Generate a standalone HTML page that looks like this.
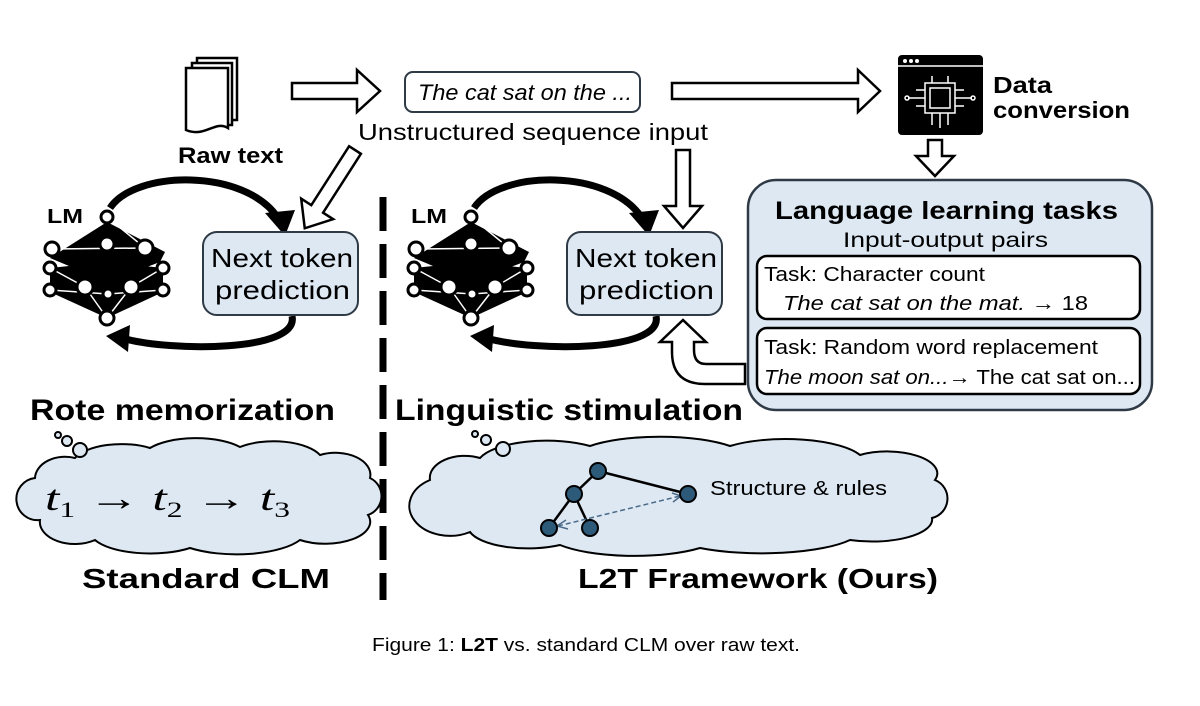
<!DOCTYPE html>
<html><head><meta charset="utf-8"><style>
html,body{margin:0;padding:0;background:#fff;}
svg{display:block;}
text{font-family:"Liberation Sans",sans-serif;}
</style></head><body>
<svg width="1200" height="706" viewBox="0 0 1200 706" xmlns="http://www.w3.org/2000/svg">
<defs>
<g id="net">
  <polygon points="107,222 165,252 160,262 107,282 50,258" fill="#000"/>
  <polygon points="50,268 107,262 163,268 163,292 107,318 50,292" fill="#000"/>
  <g stroke="#fff" stroke-width="1.5">
    <line x1="107" y1="217" x2="52" y2="249"/><line x1="107" y1="217" x2="145" y2="248"/>
    <line x1="52" y1="249" x2="145" y2="248"/><line x1="50" y1="268" x2="85" y2="287"/>
    <line x1="163" y1="268" x2="131" y2="287"/><line x1="85" y1="287" x2="107" y2="318"/>
    <line x1="131" y1="287" x2="107" y2="318"/><line x1="50" y1="290" x2="108" y2="294"/>
    <line x1="163" y1="290" x2="108" y2="294"/>
  </g>
  <g fill="#fff" stroke="#000" stroke-width="3">
    <circle cx="107" cy="217" r="6"/><circle cx="52" cy="249" r="7"/><circle cx="107" cy="244" r="7"/>
    <circle cx="145" cy="248" r="8"/><circle cx="50" cy="268" r="6"/><circle cx="163" cy="268" r="6"/>
    <circle cx="50" cy="290" r="6"/><circle cx="85" cy="287" r="8"/><circle cx="108" cy="294" r="5"/>
    <circle cx="131" cy="287" r="8"/><circle cx="163" cy="290" r="6"/><circle cx="107" cy="318" r="7"/>
  </g>
  <text x="47" y="223" font-size="20" font-weight="bold" textLength="36" lengthAdjust="spacingAndGlyphs">LM</text>
  <path d="M110,208 C135,170 245,168 278,218" fill="none" stroke="#000" stroke-width="7"/>
  <polygon points="265,213 295,210 285,236" fill="#000"/>
  <path d="M292,316 C300,352 170,352 122,338" fill="none" stroke="#000" stroke-width="7"/>
  <polygon points="130,325 106,336 128,352" fill="#000"/>
  <rect x="203" y="232" width="155" height="83" rx="14" fill="#dde8f3" stroke="#2e3a46" stroke-width="2"/>
  <text x="211" y="267" font-size="26" textLength="142" lengthAdjust="spacingAndGlyphs">Next token</text>
  <text x="215" y="299" font-size="26" textLength="135" lengthAdjust="spacingAndGlyphs">prediction</text>
</g>
</defs>

<!-- raw text doc -->
<g fill="#fff" stroke="#000" stroke-width="2.5">
  <rect x="197" y="58" width="40" height="62"/>
  <rect x="192" y="63" width="40" height="62"/>
  <path d="M186,68 H228 V128 C215,120 205,138 186,130 Z"/>
</g>
<text x="178" y="163" font-size="22" font-weight="bold" textLength="105" lengthAdjust="spacingAndGlyphs">Raw text</text>

<!-- hollow arrows -->
<g fill="#fff" stroke="#000" stroke-width="2.5" stroke-linejoin="miter">
  <polygon points="292,83 357,83 357,70 380,91 357,112 357,99 292,99"/>
  <polygon points="672,83 858,83 858,70 880,91 858,112 858,99 672,99"/>
  <g transform="translate(355,150) rotate(122.7)"><polygon points="0,-7 70,-7 70,-19 93,0 70,19 70,7 0,7"/></g>
  <g transform="translate(683,150) rotate(90)"><polygon points="0,-7 56,-7 56,-19 78,0 56,19 56,7 0,7"/></g>
  <g transform="translate(935,140) rotate(90)"><polygon points="0,-7 16,-7 16,-19 36,0 16,19 16,7 0,7"/></g>
  <path d="M745,364 L706,364 Q694,364 694,350 L694,342 L706,342 L683,320 L660,342 L672,342 L672,352 Q672,384 705,384 L745,384 Z"/>
</g>

<rect x="405" y="72" width="235" height="40" rx="8" fill="#fff" stroke="#2e3a46" stroke-width="2"/>
<text x="418" y="100" font-size="22" font-style="italic" textLength="214" lengthAdjust="spacingAndGlyphs">The cat sat on the ...</text>
<text x="358" y="140" font-size="23" textLength="350" lengthAdjust="spacingAndGlyphs">Unstructured sequence input</text>

<!-- data conversion icon -->
<rect x="898" y="55" width="85" height="80" rx="4" fill="#000"/>
<g fill="#fff"><circle cx="905" cy="61" r="2"/><circle cx="911" cy="61" r="2"/><circle cx="917" cy="61" r="2"/></g>
<line x1="898" y1="66" x2="983" y2="66" stroke="#fff" stroke-width="1.5"/>
<g fill="none" stroke="#fff" stroke-width="1.5">
  <rect x="925" y="83" width="30" height="30"/><rect x="930" y="88" width="20" height="20"/>
  <path d="M908,98 H925 M955,98 H972 M932,113 V125 M948,113 V125 M940,113 V128 M932,83 V76 M948,83 V76 M916,90 H925 M916,106 H925 M955,90 H964 M955,106 H964"/>
  <circle cx="907" cy="98" r="2"/><circle cx="973" cy="98" r="2"/>
</g>
<text x="993" y="93" font-size="23" font-weight="bold" textLength="59" lengthAdjust="spacingAndGlyphs">Data</text>
<text x="993" y="118" font-size="23" font-weight="bold" textLength="137" lengthAdjust="spacingAndGlyphs">conversion</text>

<!-- tasks box -->
<rect x="748" y="180" width="404" height="230" rx="28" fill="#dde8f3" stroke="#2e3a46" stroke-width="2.5"/>
<text x="775" y="219" font-size="25" font-weight="bold" textLength="343" lengthAdjust="spacingAndGlyphs">Language learning tasks</text>
<text x="843" y="247" font-size="21" textLength="205" lengthAdjust="spacingAndGlyphs">Input-output pairs</text>
<rect x="757" y="256" width="383" height="63" rx="10" fill="#fff" stroke="#000" stroke-width="2.5"/>
<text x="764" y="281" font-size="20" textLength="221" lengthAdjust="spacingAndGlyphs">Task: Character count</text>
<text x="783" y="310" font-size="20" textLength="305" lengthAdjust="spacingAndGlyphs"><tspan font-style="italic">The cat sat on the mat.</tspan>  → 18</text>
<rect x="757" y="328" width="383" height="66" rx="10" fill="#fff" stroke="#000" stroke-width="2.5"/>
<text x="764" y="354" font-size="20" textLength="334" lengthAdjust="spacingAndGlyphs">Task: Random word replacement</text>
<text x="764" y="384" font-size="20" textLength="371" lengthAdjust="spacingAndGlyphs"><tspan font-style="italic">The moon sat on...</tspan>→ The cat sat on...</text>

<use href="#net"/>
<use href="#net" transform="translate(364,0)"/>

<!-- dashed divider -->
<line x1="383" y1="197" x2="383" y2="600" stroke="#000" stroke-width="7" stroke-dasharray="34,13"/>

<text x="30" y="420" font-size="30" font-weight="bold" textLength="305" lengthAdjust="spacingAndGlyphs">Rote memorization</text>
<text x="395" y="420" font-size="30" font-weight="bold" textLength="348" lengthAdjust="spacingAndGlyphs">Linguistic stimulation</text>

<!-- clouds -->
<g fill="#dde8f3" stroke="#000" stroke-width="2">
  <path d="M35,478 A30,22 0 0,1 75,458 A50,22 0 0,1 150,448 A55,22 0 0,1 240,447 A50,22 0 0,1 320,455 A35,22 0 0,1 370,478 A20,20 0 0,1 368,515 A45,22 0 0,1 300,540 A70,25 0 0,1 190,548 A60,22 0 0,1 95,540 A35,22 0 0,1 40,520 A20,20 0 0,1 35,478 Z"/>
  <circle cx="58" cy="435" r="3"/><circle cx="67" cy="441" r="5"/><circle cx="80" cy="450" r="7"/>
  <path d="M430,480 A35,22 0 0,1 480,458 A70,25 0 0,1 590,446 A90,25 0 0,1 730,446 A80,25 0 0,1 860,455 A50,22 0 0,1 935,480 A20,20 0 0,1 932,518 A60,22 0 0,1 850,540 A100,25 0 0,1 700,548 A90,25 0 0,1 560,545 A60,22 0 0,1 470,532 A30,22 0 0,1 430,480 Z"/>
  <circle cx="475" cy="434" r="3"/><circle cx="486" cy="440" r="5"/><circle cx="503" cy="449" r="7"/>
</g>
<text x="45" y="510" font-size="36" font-style="italic" textLength="245" lengthAdjust="spacingAndGlyphs" style="font-family:'Liberation Serif',serif">t<tspan font-size="22" font-style="normal" dy="7">1</tspan><tspan dy="-7" font-style="normal"> → </tspan>t<tspan font-size="22" font-style="normal" dy="7">2</tspan><tspan dy="-7" font-style="normal"> → </tspan>t<tspan font-size="22" font-style="normal" dy="7">3</tspan></text>

<g stroke="#000" stroke-width="2.5">
  <line x1="598" y1="471" x2="574" y2="494"/><line x1="598" y1="471" x2="688" y2="494"/>
  <line x1="574" y1="494" x2="549" y2="528"/><line x1="574" y1="494" x2="590" y2="528"/>
</g>
<line x1="558" y1="526" x2="680" y2="496" stroke="#4a6a88" stroke-width="1.5" stroke-dasharray="5,3"/>
<path d="M566,520 L557,526 L568,529 M672,493 L681,496 L673,502" fill="none" stroke="#4a6a88" stroke-width="1.5"/>
<g fill="#2c5a78" stroke="#000" stroke-width="2">
  <circle cx="598" cy="471" r="8"/><circle cx="574" cy="494" r="8"/><circle cx="688" cy="494" r="8"/>
  <circle cx="549" cy="528" r="8"/><circle cx="590" cy="528" r="8"/>
</g>
<text x="710" y="495" font-size="20" textLength="177" lengthAdjust="spacingAndGlyphs">Structure &amp; rules</text>

<text x="82" y="588" font-size="28" font-weight="bold" textLength="248" lengthAdjust="spacingAndGlyphs">Standard CLM</text>
<text x="578" y="588" font-size="28" font-weight="bold" textLength="360" lengthAdjust="spacingAndGlyphs">L2T Framework (Ours)</text>

<text x="372" y="651" font-size="18" textLength="428" lengthAdjust="spacingAndGlyphs">Figure 1:  <tspan font-weight="bold">L2T</tspan> vs. standard CLM over raw text.</text>
</svg>
</body></html>
